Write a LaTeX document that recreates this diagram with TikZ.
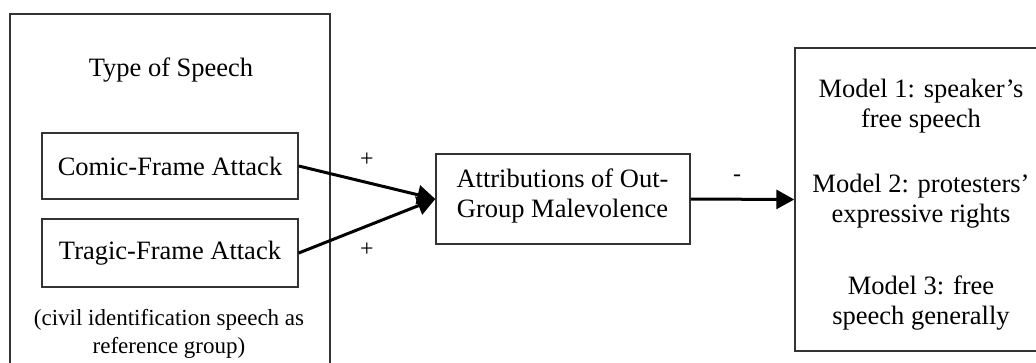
\documentclass[tikz,border=0pt]{standalone}
\usepackage{fontspec}
\setmainfont{Liberation Serif}
\usetikzlibrary{arrows.meta}
\begin{document}
\begin{tikzpicture}[x=1pt,y=-1pt,
  box/.style={draw=black!80,line width=1.4pt,inner sep=0pt},
  txt/.style={font=\fontsize{26.5}{29.5}\selectfont,align=center,inner sep=0pt},
  small/.style={font=\fontsize{23}{28}\selectfont,align=center,inner sep=0pt},
  conn/.style={line width=3pt,-{Triangle[length=18pt,width=19pt]}},
  sign/.style={font=\fontsize{24}{28}\selectfont,inner sep=0pt}]
\useasboundingbox (0,0) rectangle (1036,362);
% outer group box (its bottom lies below the page)
\node[box,minimum width=320pt,minimum height=380pt] (group) at (170,204) {};
\node[txt] (title) at (171,70) {Type of Speech};
\node[box,minimum width=256pt,minimum height=66pt] (comic) at (170,166) {};
\node[txt] (comict) at (170,166) {Comic-Frame Attack};
\node[box,minimum width=256pt,minimum height=68pt] (tragic) at (170,253) {};
\node[txt] (tragict) at (170,253) {Tragic-Frame Attack};
\node[small] (note) at (169,334) {(civil identification speech as\\reference group)};
% mediator
\node[box,minimum width=254pt,minimum height=90pt] (mid) at (563,199) {};
\node[txt] (midt) at (562.5,196) {Attributions of Out-\\Group Malevolence};
% outcome (its right side lies beyond the page)
\node[box,minimum width=260pt,minimum height=303pt] (out) at (925,199.5) {};
\node[txt] (m1) at (921,106) {Model 1: speaker's\\free speech};
\node[txt] (m2) at (921,201) {Model 2: protesters'\\expressive rights};
\node[txt] (m3) at (921,303) {Model 3: free\\speech generally};
% connectors
\draw[conn] (comic.east) -- (mid.west);
\draw[conn] (tragic.east) -- (mid.west);
\draw[conn] (mid.east) -- (out.west);
\node[sign] (p1) at (367,160) {+};
\node[sign] (p2) at (367,250) {+};
\node[sign] (mn) at (737,178) {-};
\end{tikzpicture}
\end{document}
